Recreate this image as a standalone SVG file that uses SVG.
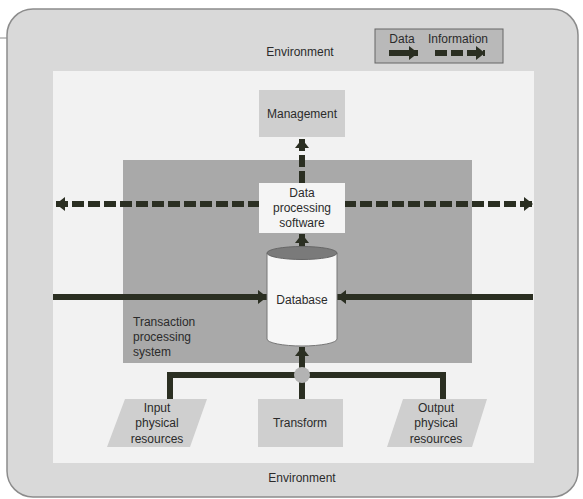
<svg xmlns="http://www.w3.org/2000/svg" width="583" height="499" viewBox="0 0 583 499">
<style>
text{font-family:"Liberation Sans",Arial,sans-serif;font-size:12px;fill:#2b2b2b;text-anchor:middle}
.l{text-anchor:start}
.data{stroke:#2b2f22;stroke-width:6;fill:none}
.info{stroke:#2b2f22;stroke-width:6;fill:none;stroke-dasharray:12 4}
.box{fill:#cfcfcf}
</style>
<defs>
<marker id="ah" markerUnits="userSpaceOnUse" markerWidth="9" markerHeight="14" refX="9" refY="7" orient="auto-start-reverse" viewBox="0 0 9 14">
<path d="M0,0 L9,7 L0,14 Z" fill="#2b2f22"/>
</marker>
</defs>
<line x1="0" y1="38" x2="57" y2="38" stroke="#8a8a8a" stroke-width="1"/>
<g id="environment">
<rect x="7" y="9" width="571" height="488" rx="26" fill="#d9d9d9" stroke="#8c8c8c" stroke-width="1.5"/>
<rect x="53" y="71" width="481" height="392" fill="#f2f2f2"/>
<text x="300" y="56">Environment</text>
<text x="302" y="482">Environment</text>
</g>
<g id="legend">
<rect x="375" y="29" width="128" height="34" fill="#b9b9b9" stroke="#666" stroke-width="1"/>
<text x="402" y="43">Data</text>
<text x="458" y="43">Information</text>
<line class="data" x1="389" y1="53" x2="418" y2="53" marker-end="url(#ah)"/>
<line class="info" x1="435" y1="53" x2="485" y2="53" marker-end="url(#ah)"/>
</g>
<g id="tps">
<rect x="123" y="160" width="349" height="203" fill="#a9a9a9"/>
<text class="l" x="133" y="326">Transaction</text>
<text class="l" x="133" y="341">processing</text>
<text class="l" x="133" y="356">system</text>
</g>
<g id="connectors">
<line class="info" x1="260" y1="204" x2="56" y2="204" marker-end="url(#ah)"/>
<line class="info" x1="344" y1="204" x2="533" y2="204" marker-end="url(#ah)"/>
<line class="info" x1="302" y1="183" x2="302" y2="139" marker-end="url(#ah)"/>
<line class="data" x1="302" y1="250" x2="302" y2="234" marker-end="url(#ah)"/>
<line class="data" x1="53" y1="297" x2="267" y2="297" marker-end="url(#ah)"/>
<line class="data" x1="533" y1="297" x2="337" y2="297" marker-end="url(#ah)"/>
<path class="data" d="M170,400 V375 H443 V400" stroke-width="5"/>
<line class="data" x1="302" y1="400" x2="302" y2="375" stroke-width="5"/>
<line class="data" x1="302" y1="375" x2="302" y2="347" marker-end="url(#ah)"/>
<circle cx="302" cy="375" r="8" fill="#b3b3b3"/>
</g>
<g id="management">
<rect class="box" x="259" y="90" width="86" height="47"/>
<text x="302" y="118">Management</text>
</g>
<g id="dps">
<rect x="259" y="183" width="86" height="50" fill="#f5f5f5"/>
<text x="302" y="197">Data</text>
<text x="302" y="212">processing</text>
<text x="302" y="227">software</text>
</g>
<g id="database">
<path d="M267,253 V339 A35,7 0 0 0 337,339 V253 Z" fill="#f7f7f7" stroke="#777" stroke-width="1"/>
<ellipse cx="302" cy="253" rx="35" ry="6.5" fill="#7a7a7a" stroke="#666" stroke-width="1"/>
<text x="302" y="304">Database</text>
</g>
<g id="input">
<polygon class="box" points="125,399 207,399 190,447 107,447"/>
<text x="157" y="412">Input</text>
<text x="157" y="427">physical</text>
<text x="157" y="443">resources</text>
</g>
<g id="transform">
<rect class="box" x="258" y="399" width="85" height="48"/>
<text x="300" y="427">Transform</text>
</g>
<g id="output">
<polygon class="box" points="403,399 487,399 472,447 387,447"/>
<text x="436" y="412">Output</text>
<text x="436" y="427">physical</text>
<text x="436" y="443">resources</text>
</g>
</svg>
